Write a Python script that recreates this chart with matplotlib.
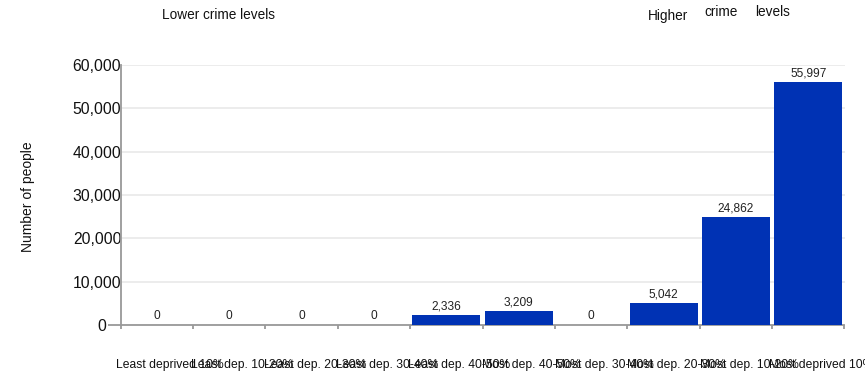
import matplotlib
matplotlib.use("Agg")
import matplotlib.pyplot as plt
from matplotlib.transforms import ScaledTranslation

plt.rcParams['font.family'] = ['Liberation Sans', 'DejaVu Sans']

categories = ["Least deprived 10%", "Least dep. 10-20%", "Least dep. 20-30%",
              "Least dep. 30-40%", "Least dep. 40-50%", "Most dep. 40-50%",
              "Most dep. 30-40%", "Most dep. 20-30%", "Most dep. 10-20%",
              "Most deprived 10%"]
values = [0, 0, 0, 0, 2336, 3209, 0, 5042, 24862, 55997]
yticks = [0, 10000, 20000, 30000, 40000, 50000, 60000]
ylabel = "Number of people"

W, H = 865, 377
fig = plt.figure(figsize=(W / 100, H / 100), dpi=100)
ax = fig.add_axes([120.7 / W, 1 - 325 / H, (844.5 - 120.7) / W, (325 - 65) / H])

bar_color = "#0032B4"
x = list(range(len(categories)))
bars = ax.bar(x, values, width=0.94, color=bar_color, zorder=3)
ax.bar_label(bars, labels=[f"{v:,}" for v in values], padding=2, fontsize=8.6,
             color="#222222")

ax.set_xlim(-0.5, len(categories) - 0.5)
ax.set_ylim(0, 60000)
ax.set_yticks(yticks)
ax.set_yticklabels([f"{v:,}" for v in yticks])
ax.grid(axis="y", color="#ebebeb", linewidth=1.3, zorder=0)
ax.set_axisbelow(True)

for s in ["top", "right"]:
    ax.spines[s].set_visible(False)
for s in ["left", "bottom"]:
    ax.spines[s].set_color("#999999")
    ax.spines[s].set_linewidth(1.3)

# x ticks: labels at centres, marks at boundaries
ax.set_xticks(x)
ax.set_xticklabels(categories)
ax.set_xticks([i - 0.5 for i in range(len(categories) + 1)], minor=True)
ax.tick_params(axis="x", which="major", length=0, pad=24.5, labelsize=8.7,
               labelcolor="#111111")
ax.tick_params(axis="x", which="minor", length=3, width=1.3, color="#999999")
offx = ScaledTranslation(13 / 100, 0, fig.dpi_scale_trans)
for lab in ax.get_xticklabels():
    lab.set_transform(lab.get_transform() + offx)

# y ticks
ax.tick_params(axis="y", which="major", length=9.4, width=1.3, color="#999999",
               pad=1, labelsize=11.3, labelcolor="#111111")
offy = ScaledTranslation(15 / 100, 0, fig.dpi_scale_trans)
for tick, v in zip(ax.yaxis.get_major_ticks(), yticks):
    if v != 0:
        tick.tick1line.set_visible(False)
        tick.label1.set_transform(tick.label1.get_transform() + offy)

ax.set_ylabel(ylabel, fontsize=10, color="#111111")
ax.yaxis.set_label_coords(-0.1184, 0.492)

# top annotations
fig.text(218 / W, 1 - 15 / H, "Lower crime levels", ha="center", va="center",
         fontsize=9.8, color="#111111")
fig.text(668 / W, 1 - 16 / H, "Higher", ha="center", va="center",
         fontsize=9.8, color="#111111")
fig.text(721.5 / W, 1 - 12.5 / H, "crime", ha="center", va="center",
         fontsize=9.8, color="#111111")
fig.text(772.5 / W, 1 - 12.5 / H, "levels", ha="center", va="center",
         fontsize=9.8, color="#111111")

fig.savefig("out.png", dpi=100)
